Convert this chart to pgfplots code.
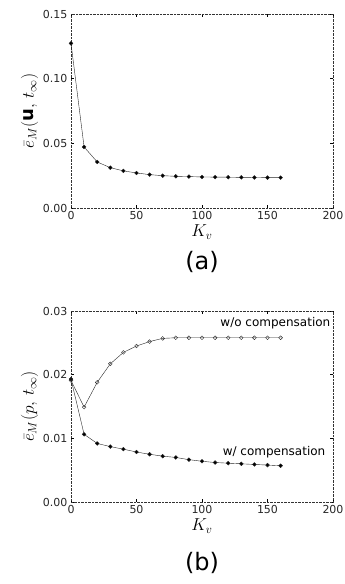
\documentclass[border=0pt]{standalone}
\usepackage{fontspec}
\setmainfont{DejaVu Sans}
\usepackage{pgfplots}
\pgfplotsset{compat=1.18}
\begin{document}
\begin{tikzpicture}
\useasboundingbox (0pt,0pt) rectangle (345pt,-584pt);
\pgfplotsset{myax/.style={
  width=262pt, scale only axis,
  xmin=0, xmax=200, xtick={0,50,100,150,200},
  tick style={black, thin},
  major tick length=3pt,
  axis line style={black!80, densely dotted, thin},
  tick label style={font=\fontsize{11}{13}\selectfont, black!85},
  /pgf/number format/assume math mode=true,
  yticklabel style={/pgf/number format/fixed, /pgf/number format/fixed zerofill, /pgf/number format/precision=2},
  scaled y ticks=false,
  xlabel={$K_v$},
  xlabel style={font=\fontsize{17}{20}\selectfont, yshift=2pt},
  ylabel style={font=\fontsize{18}{21}\selectfont, yshift=-2pt},
  every axis plot/.append style={black!85, thin, mark size=1.9pt},
}}
\begin{axis}[myax, at={(71pt,-208pt)}, anchor=south west, height=194pt,
  ymin=0, ymax=0.15, ytick={0,0.05,0.10,0.15},
  ylabel={$\bar{e}_M(\mathbf{u},\, t_\infty)$}]
\addplot[mark=*, mark options={fill=black}] coordinates {
(0,0.1273) (10,0.0472) (20,0.0356) (30,0.0312) (40,0.0287) (50,0.0271)
(60,0.0258) (70,0.0250) (80,0.0245) (90,0.0243) (100,0.0240) (110,0.0239)
(120,0.0238) (130,0.0237) (140,0.0236) (150,0.0235) (160,0.0235)};
\end{axis}
\node at (202pt,-262pt) {\fontsize{24}{28}\selectfont (a)};
\begin{axis}[myax, at={(71pt,-502pt)}, anchor=south west, height=191pt,
  ymin=0, ymax=0.03, ytick={0,0.01,0.02,0.03},
  ylabel={$\bar{e}_M(p,\, t_\infty)$}]
\addplot[mark=*, mark options={fill=black}] coordinates {
(0,0.0193) (10,0.01063) (20,0.0092) (30,0.0087) (40,0.0083) (50,0.00785)
(60,0.0075) (70,0.0072) (80,0.0070) (90,0.00665) (100,0.0064) (110,0.0062)
(120,0.0061) (130,0.0060) (140,0.0059) (150,0.0058) (160,0.0057)};
\addplot[mark=o, mark options={fill=white}] coordinates {
(0,0.0191) (10,0.0149) (20,0.0188) (30,0.0217) (40,0.0235) (50,0.0245)
(60,0.0252) (70,0.0257) (80,0.0258) (90,0.0258) (100,0.0258) (110,0.0258)
(120,0.0258) (130,0.0258) (140,0.0258) (150,0.0258) (160,0.0258)};
\node[font=\fontsize{12}{14}\selectfont] at (axis cs:156,0.0281) {w/o compensation};
\node[font=\fontsize{12}{14}\selectfont] at (axis cs:155,0.00785) {w/ compensation};
\end{axis}
\node at (202pt,-563pt) {\fontsize{24}{28}\selectfont (b)};
\end{tikzpicture}
\end{document}
